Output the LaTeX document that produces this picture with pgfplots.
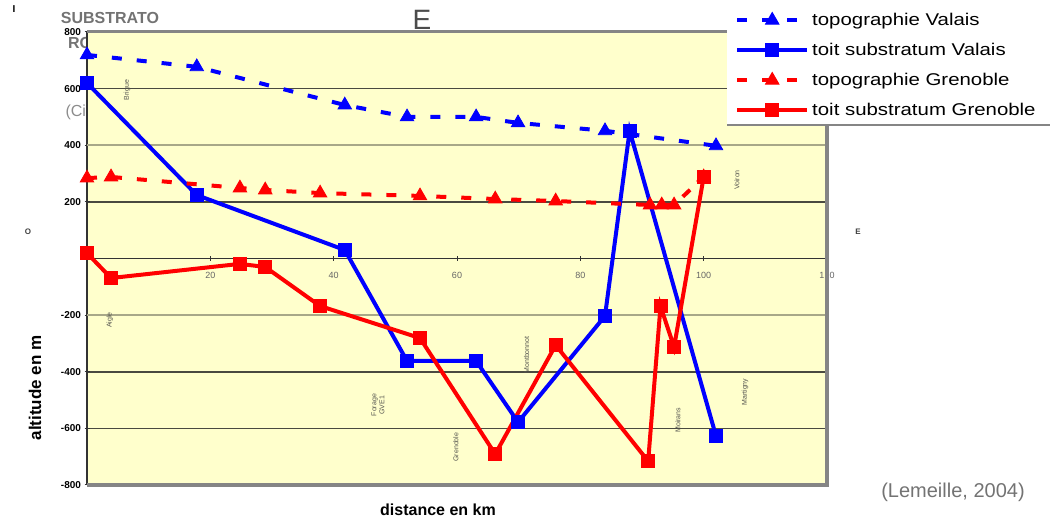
\documentclass[border=0pt]{standalone}
\usepackage{fontspec}
\setmainfont{Liberation Sans}
\newfontfamily\legfont[FakeStretch=1.2]{Liberation Sans}
\usepackage{pgfplots}
\pgfplotsset{compat=1.18}
\definecolor{bgy}{HTML}{FFFFCC}
\definecolor{gridd}{HTML}{4A4A40}
\definecolor{gridl}{HTML}{A8A888}
\definecolor{frameg}{HTML}{858585}
\definecolor{annot}{HTML}{555550}
\begin{document}
\begin{tikzpicture}[x=1pt,y=1pt]
\useasboundingbox (0,0) rectangle (1050,519);
% scan remnants around the chart
\node[text=black!55, font=\fontsize{16}{18}\selectfont\bfseries] at (110,501) {SUBSTRATO};
\node[text=black!55, font=\fontsize{16}{18}\selectfont\bfseries] at (80,476) {RO};
\node[text=black!45, font=\fontsize{16}{18}\selectfont] at (78,407) {(Cit};
\node[text=black!70, font=\fontsize{28}{30}\selectfont] at (422,499) {E};
\node[font=\fontsize{10}{10}\selectfont\bfseries] at (14,510) {I};
\node[text=black!75, font=\fontsize{8}{9}\selectfont\bfseries] at (28,287) {O};
\node[text=black!75, font=\fontsize{8}{9}\selectfont\bfseries] at (858,287) {E};
\node[text=black!55, font=\fontsize{20}{22}\selectfont] at (953,27) {(Lemeille, 2004)};
\node[font=\fontsize{16}{18}\selectfont\bfseries] at (438,9) {distance en km};
\node[rotate=90, font=\fontsize{17}{19}\selectfont\bfseries] at (35,131) {altitude en m};
\begin{axis}[
  at={(87pt,34pt)}, anchor=south west,
  scale only axis, width=740pt, height=453pt,
  xmin=0, xmax=120, ymin=-800, ymax=800,
  clip=false,
  axis x line=middle, axis y line=left,
  x axis line style={-, draw=black!80, line width=1.8pt},
  y axis line style={-, draw=black!80, line width=1.6pt},
  axis background/.style={fill=bgy},
  xtick={20,40,60,80,100,120},
  ytick={-800,-600,-400,-200,200,400,600,800},
  ymajorgrids,
  major grid style={gridd, line width=1.6pt},
  tick style={black!80, line width=1pt},
  major tick length=5pt,
  /pgf/number format/assume math mode=true,
  xticklabel style={font=\fontsize{9}{10}\selectfont, text=black!60, yshift=-8pt},
  yticklabel style={font=\fontsize{10}{12}\selectfont\bfseries},
  legend cell align=left,
  legend style={at={(0.8649,1.0706)}, anchor=north west, draw=none, fill=none,
    font=\legfont\fontsize{17}{20}\selectfont,
    inner xsep=8pt, inner ysep=5pt, row sep=0pt, column sep=2pt,
    nodes={inner xsep=1pt, inner ysep=0pt, minimum height=30pt}},
  legend image code/.code={\draw[mark repeat=2,mark phase=2,#1] plot coordinates {(0pt,0pt) (35pt,0pt) (70pt,0pt)};},
]
% lighter grid lines
\draw[gridl, line width=1.6pt] (axis cs:0,400) -- (axis cs:120,400);
\draw[gridl, line width=1.6pt] (axis cs:0,-200) -- (axis cs:120,-200);

\addplot[blue, line width=4pt, dash pattern=on 10pt off 15pt, mark=triangle*, mark size=7.8pt, mark options={solid, line width=0.8pt}]
  coordinates {(0,719) (17.8,677) (41.8,542) (51.9,500) (63.1,500) (69.9,479) (84,451) (102,398)};
\addlegendentry{topographie Valais}
\addplot[blue, line width=4pt, mark=square*, mark size=6.6pt, mark options={solid, line width=0.8pt}]
  coordinates {(0,620) (17.8,224) (41.8,30) (51.9,-362) (63.1,-362) (69.9,-578) (84,-203) (88,451) (102,-627)};
\addlegendentry{toit substratum Valais}
\addplot[red, line width=4pt, dash pattern=on 10pt off 15pt, mark=triangle*, mark size=7.8pt, mark options={solid, line width=0.8pt}]
  coordinates {(0,284) (3.9,288) (24.8,249) (28.9,242) (37.8,231) (54,221) (66.2,210) (76,203) (91.3,189) (93.2,189) (95.2,189) (100,288)};
\addlegendentry{topographie Grenoble}
\addplot[red, line width=4pt, mark=square*, mark size=6.6pt, mark options={solid, line width=0.8pt}]
  coordinates {(0,19) (3.9,-69) (24.8,-19) (28.9,-30) (37.8,-168) (54,-281) (66.2,-691) (76,-306) (91,-716) (93,-168) (95.2,-313) (100,288)};
\addlegendentry{toit substratum Grenoble}

% place names
\begin{scope}[every node/.style={rotate=90, text=annot, font=\fontsize{7}{8}\selectfont, align=center}]
\node at (axis cs:6.5,595) {Brigue};
\node at (axis cs:3.7,-217) {Aigle};
\node at (axis cs:47.2,-518) {Forage\\GVE1};
\node at (axis cs:59.8,-666) {Grenoble};
\node at (axis cs:71.3,-341) {Montbonnot};
\node at (axis cs:95.8,-571) {Moirans};
\node at (axis cs:106.7,-472) {Martigny};
\node at (axis cs:105.4,277) {Voiron};
\end{scope}

% frame
\draw[frameg, line width=3pt] (axis cs:0,800) -- (axis cs:120,800);
\draw[frameg, line width=4pt] (axis cs:0,-800) -- (axis cs:120,-800);
\draw[frameg, line width=4pt] (axis cs:120,-806) -- (axis cs:120,800);
% legend backdrop
\fill[white] (rel axis cs:0.8649,1.0706) rectangle (rel axis cs:1.302,0.7947);
\draw[frameg, line width=2pt] (rel axis cs:0.8649,0.7947) -- (rel axis cs:1.302,0.7947);
\end{axis}
\end{tikzpicture}
\end{document}
